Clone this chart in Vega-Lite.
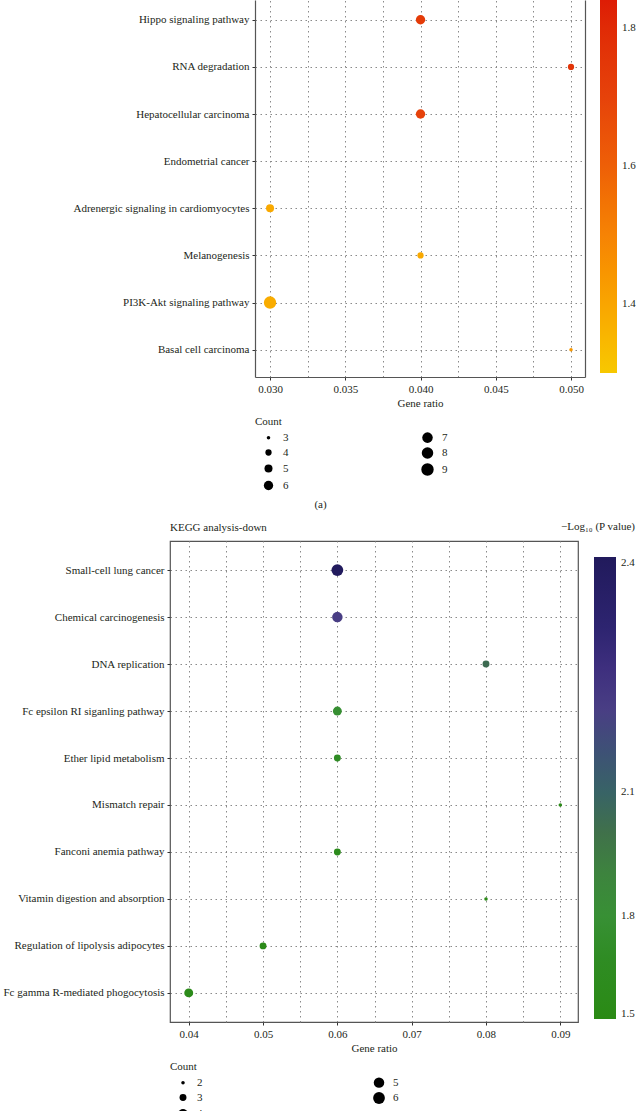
{
  "$schema": "https://vega.github.io/schema/vega-lite/v6.json",
  "padding": 0,
  "background": "white",
  "datasets": {
    "up": [
      {"pathway": "Hippo signaling pathway", "gene_ratio": 0.04, "count": 6, "neg_log10_p": 1.73},
      {"pathway": "RNA degradation", "gene_ratio": 0.05, "count": 4, "neg_log10_p": 1.76},
      {"pathway": "Hepatocellular carcinoma", "gene_ratio": 0.04, "count": 6, "neg_log10_p": 1.7},
      {"pathway": "Adrenergic signaling in cardiomyocytes", "gene_ratio": 0.03, "count": 5, "neg_log10_p": 1.39},
      {"pathway": "Melanogenesis", "gene_ratio": 0.04, "count": 4, "neg_log10_p": 1.39},
      {"pathway": "PI3K-Akt signaling pathway", "gene_ratio": 0.03, "count": 9, "neg_log10_p": 1.38},
      {"pathway": "Basal cell carcinoma", "gene_ratio": 0.05, "count": 3, "neg_log10_p": 1.44}
    ],
    "down": [
      {"pathway": "Small-cell lung cancer", "gene_ratio": 0.06, "count": 6, "neg_log10_p": 2.65},
      {"pathway": "Chemical carcinogenesis", "gene_ratio": 0.06, "count": 5, "neg_log10_p": 2.3},
      {"pathway": "DNA replication", "gene_ratio": 0.08, "count": 3, "neg_log10_p": 2.03},
      {"pathway": "Fc epsilon RI siganling pathway", "gene_ratio": 0.06, "count": 4, "neg_log10_p": 1.78},
      {"pathway": "Ether lipid metabolism", "gene_ratio": 0.06, "count": 3, "neg_log10_p": 1.7},
      {"pathway": "Mismatch repair", "gene_ratio": 0.09, "count": 2, "neg_log10_p": 1.58},
      {"pathway": "Fanconi anemia pathway", "gene_ratio": 0.06, "count": 3, "neg_log10_p": 1.62},
      {"pathway": "Vitamin digestion and absorption", "gene_ratio": 0.08, "count": 2, "neg_log10_p": 1.57},
      {"pathway": "Regulation of lipolysis adipocytes", "gene_ratio": 0.05, "count": 3, "neg_log10_p": 1.58},
      {"pathway": "Fc gamma R-mediated phogocytosis", "gene_ratio": 0.04, "count": 4, "neg_log10_p": 1.6}
    ]
  },
  "config": {
    "font": "Liberation Serif",
    "view": {"stroke": "#555555", "strokeWidth": 1.2},
    "axis": {
      "labelFont": "Liberation Serif", "labelFontSize": 11, "labelColor": "#231f20",
      "titleFont": "Liberation Serif", "titleFontSize": 11, "titleFontWeight": "normal", "titleColor": "#231f20",
      "domain": false, "domainColor": "#555555", "domainWidth": 1.2,
      "tickColor": "#333333", "tickSize": 3, "labelPadding": 3,
      "gridColor": "#8a8a8a", "gridDash": [1.5, 3.5], "gridWidth": 1
    },
    "legend": {
      "labelFont": "Liberation Serif", "labelFontSize": 11, "labelColor": "#231f20",
      "titleFont": "Liberation Serif", "titleFontSize": 11, "titleFontWeight": "normal", "titleColor": "#231f20"
    },
    "title": {"font": "Liberation Serif", "fontSize": 11, "fontWeight": "normal", "color": "#231f20"}
  },
  "spacing": 10,
  "columns": 1,
  "align": "none",
  "center": false,
  "resolve": {
    "scale": {"color": "independent", "size": "independent", "x": "independent", "y": "independent"},
    "legend": {"color": "independent", "size": "independent"}
  },
  "concat": [
    {
      "width": 415,
      "height": 377,
      "view": {"stroke": null},
      "data": {"name": "up"},
      "title": {"text": "(a)", "orient": "bottom", "anchor": "middle", "frame": "group", "offset": 8, "dx": -57},
      "resolve": {"axis": {"y": "independent"}},
      "layer": [
        {
          "mark": {"type": "circle", "opacity": 1},
          "encoding": {
            "x": {
              "field": "gene_ratio", "type": "quantitative",
              "scale": {"domain": [0.029, 0.05093], "range": [85, 415], "nice": false, "zero": false},
              "axis": {
                "title": "Gene ratio", "grid": true, "titlePadding": 3, "domain": true,
                "values": [0.03, 0.0325, 0.035, 0.0375, 0.04, 0.0425, 0.045, 0.0475, 0.05],
                "labelExpr": "abs(datum.value*200 - round(datum.value*200)) < 0.001 ? format(datum.value, '.3f') : ''",
                "tickOpacity": {"condition": {"test": "abs(datum.value*200 - round(datum.value*200)) < 0.001", "value": 1}, "value": 0}
              }
            },
            "y": {
              "field": "pathway", "type": "nominal",
              "scale": {
                "type": "point",
                "domain": ["Hippo signaling pathway", "RNA degradation", "Hepatocellular carcinoma", "Endometrial cancer", "Adrenergic signaling in cardiomyocytes", "Melanogenesis", "PI3K-Akt signaling pathway", "Basal cell carcinoma"],
                "padding": 0.5, "align": 0.42
              },
              "axis": {"title": null, "grid": true, "domain": true, "offset": -85, "labelLimit": 300}
            },
            "color": {
              "field": "neg_log10_p", "type": "quantitative",
              "scale": {
                "domain": [1.3, 1.4, 1.5, 1.6, 1.7, 1.84],
                "range": ["#f7c800", "#f9a500", "#f68304", "#ee5f07", "#e6420a", "#dd1c05"]
              },
              "legend": {
                "title": null, "orient": "right", "offset": 15,
                "gradientLength": 373, "gradientThickness": 17, "gradientStrokeWidth": 0,
                "values": [1.4, 1.6, 1.8], "format": ".1f", "labelOffset": 5,
                "labelBaseline": "middle", "labelOverlap": false
              }
            },
            "size": {
              "field": "count", "type": "quantitative",
              "scale": {"type": "pow", "exponent": 0.75, "domain": [3, 9], "range": [12.6, 154], "zero": false},
              "legend": {
                "title": "Count", "orient": "none", "legendX": 85, "legendY": 416,
                "direction": "vertical", "columns": 2,
                "values": [3, 4, 5, 6, 7, 8, 9], "columnPadding": 125, "rowPadding": 3,
                "symbolFillColor": "black", "symbolStrokeWidth": 0, "symbolType": "circle",
                "symbolOffset": 7, "labelOffset": 8
              }
            }
          }
        },
        {
          "mark": {"type": "circle", "opacity": 0},
          "encoding": {
            "x": {"field": "gene_ratio", "type": "quantitative"},
            "y": {
              "field": "pathway", "type": "nominal",
              "axis": {"orient": "right", "title": null, "labels": false, "ticks": false, "grid": false, "domain": true}
            }
          }
        }
      ]
    },
    {
      "width": 408,
      "height": 481,
      "data": {"name": "down"},
      "title": {"text": "KEGG analysis-down", "anchor": "start", "frame": "group", "offset": -12},
      "mark": {"type": "circle", "opacity": 1},
      "encoding": {
        "x": {
          "field": "gene_ratio", "type": "quantitative",
          "scale": {"domain": [0.03748, 0.09238], "nice": false, "zero": false},
          "axis": {
            "title": "Gene ratio", "grid": true, "titlePadding": 3,
            "values": [0.04, 0.045, 0.05, 0.055, 0.06, 0.065, 0.07, 0.075, 0.08, 0.085, 0.09],
            "labelExpr": "abs(datum.value*100 - round(datum.value*100)) < 0.001 ? format(datum.value, '.2f') : ''",
            "tickOpacity": {"condition": {"test": "abs(datum.value*100 - round(datum.value*100)) < 0.001", "value": 1}, "value": 0}
          }
        },
        "y": {
          "field": "pathway", "type": "nominal",
          "scale": {
            "type": "point",
            "domain": ["Small-cell lung cancer", "Chemical carcinogenesis", "DNA replication", "Fc epsilon RI siganling pathway", "Ether lipid metabolism", "Mismatch repair", "Fanconi anemia pathway", "Vitamin digestion and absorption", "Regulation of lipolysis adipocytes", "Fc gamma R-mediated phogocytosis"],
            "padding": 0.62, "align": 0.5
          },
          "axis": {"title": null, "grid": true, "minExtent": 169, "maxExtent": 169, "labelLimit": 300}
        },
        "color": {
          "field": "neg_log10_p", "type": "quantitative",
          "scale": {
            "domain": [1.55, 1.71, 1.8, 1.93, 2.02, 2.15, 2.23, 2.32, 2.4, 2.5, 2.67],
            "range": ["#2a8a14", "#2f8c25", "#389035", "#3e8040", "#416c4c", "#475a66", "#48487c", "#4a3b86", "#3e2f7e", "#2d2470", "#211a5c"]
          },
          "legend": {
            "title": "−Log₁₀ (P value)", "titleAnchor": "end", "titlePadding": 25,
            "orient": "none", "legendX": 391, "legendY": -20,
            "gradientLength": 462, "gradientThickness": 22, "gradientStrokeWidth": 0,
            "values": [1.55, 1.8, 2.1, 2.67],
            "labelExpr": "datum.value < 1.6 ? '1.5' : datum.value > 2.6 ? '2.4' : format(datum.value, '.1f')",
            "labelOffset": 5, "labelBaseline": "middle", "labelOverlap": false
          }
        },
        "size": {
          "field": "count", "type": "quantitative",
          "scale": {"type": "pow", "exponent": 0.75, "domain": [2, 6], "range": [12.6, 139], "zero": false},
          "legend": {
            "title": "Count", "orient": "bottom", "direction": "vertical", "columns": 2,
            "values": [2, 3, 4, 5, 6], "columnPadding": 163, "rowPadding": 3,
            "symbolFillColor": "black", "symbolStrokeWidth": 0, "symbolType": "circle",
            "symbolOffset": 7, "labelOffset": 8, "offset": 8
          }
        }
      }
    }
  ]
}
